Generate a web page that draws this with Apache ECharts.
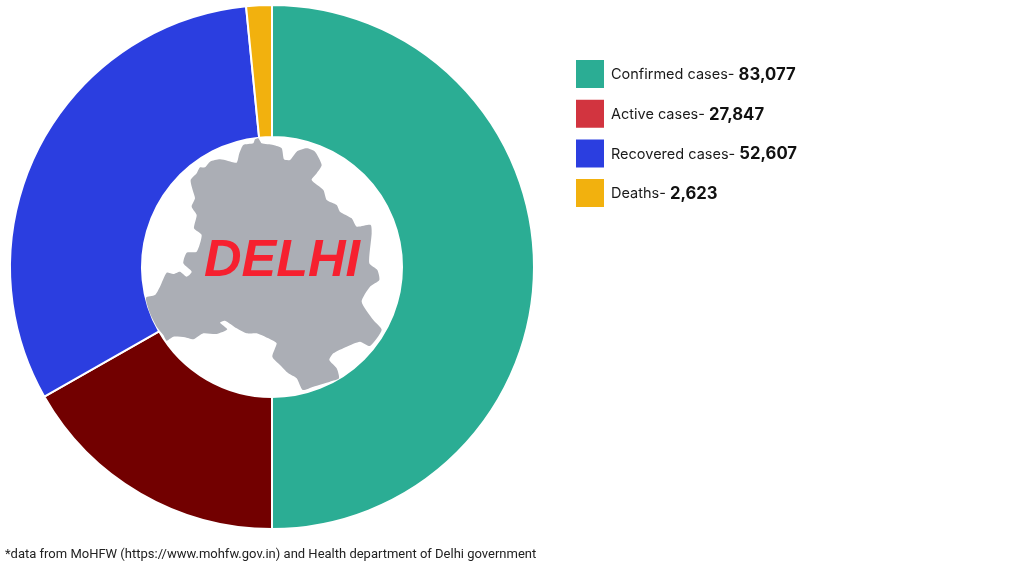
<!DOCTYPE html>
<html><head><meta charset="utf-8">
<style>html,body{margin:0;padding:0;background:#fff}#c{width:1024px;height:576px}</style>
<script src="https://cdn.jsdelivr.net/npm/echarts@6/dist/echarts.min.js"></script>
</head><body><div id="c"></div>
<script>
const categories = ['Confirmed cases', 'Active cases', 'Recovered cases', 'Deaths'];
const values = [83077, 27847, 52607, 2623];
const sliceColors = ['#2bad94', '#720000', '#2b3ee0', '#f2b10e'];
const legendColors = ['#2bad94', '#d2343f', '#2b3ee0', '#f2b10e'];
const footnote = '*data from MoHFW (https://www.mohfw.gov.in) and Health department of Delhi government';
const centreLabel = 'DELHI';
const mapOutline = [[345,28],[340,40],[310,45],[298,70],[290,98],[262,92],[240,88],[210,95],[195,112],[180,112],[170,130],[152,150],[158,180],[165,205],[155,230],[170,255],[162,295],[185,315],[170,365],[140,368],[130,400],[155,425],[140,440],[120,425],[100,432],[80,428],[60,470],[45,495],[18,503],[30,550],[50,590],[70,615],[80,632],[100,620],[135,622],[160,628],[190,610],[230,612],[262,598],[240,578],[255,572],[290,595],[320,610],[350,610],[395,630],[410,640],[397,680],[420,705],[445,730],[470,745],[488,780],[520,770],[570,755],[597,745],[590,715],[568,690],[580,670],[620,650],[660,635],[690,648],[725,600],[700,570],[665,515],[690,470],[718,450],[712,420],[688,400],[695,310],[692,285],[650,290],[635,265],[600,245],[590,225],[560,210],[550,180],[515,150],[530,130],[545,105],[525,65],[500,55],[470,65],[450,90],[432,88],[425,55],[400,45],[365,40],[355,25]];

const chart = echarts.init(document.getElementById('c'), null, {renderer:'canvas'});
chart.setOption({
  animation:false,
  backgroundColor:'#ffffff',
  title:{
    text:footnote, left:0, top:548, padding:[0,0,0,5],
    textStyle:{fontFamily:'Roboto', fontSize:13, fontWeight:'normal', color:'#222222'}
  },
  legend:{
    orient:'vertical', left:574, top:58, padding:0, itemWidth:30, itemHeight:30, itemGap:7.7,
    icon:'rect', selectedMode:false,
    data:categories.map((n,i)=>({name:n, itemStyle:{color:legendColors[i]}})),
    formatter:n=>`{a|${n}- }{b|${values[categories.indexOf(n)].toLocaleString('en-US')}}`,
    textStyle:{
      rich:{
        a:{fontFamily:'Inter', fontSize:14.5, color:'#1a1a1a', padding:[2,0,0,1]},
        b:{fontFamily:'Inter', fontSize:16.7, fontWeight:'bold', color:'#111111', padding:[2,0,0,0]}
      }
    }
  },
  series:[{
    type:'pie', center:[272,267], radius:[130,262], startAngle:90, clockwise:true,
    silent:true, label:{show:false}, labelLine:{show:false},
    itemStyle:{borderColor:'#ffffff', borderWidth:2},
    data:categories.map((n,i)=>({name:n, value:values[i], itemStyle:{color:sliceColors[i]}}))
  }],
  graphic:[
    {type:'polygon', x:140, y:130, scaleX:1/3, scaleY:1/3, z:10,
     shape:{points:mapOutline, smooth:0.2}, style:{fill:'#abaeb5'}},
    {type:'text', x:282, y:262, z:11,
     style:{text:centreLabel, fill:'#f6202f', font:'italic bold 52px "Liberation Sans"', textAlign:'center', textVerticalAlign:'middle'}}
  ]
});
</script></body></html>
